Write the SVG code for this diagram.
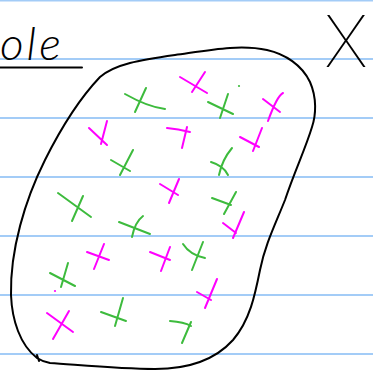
<svg xmlns="http://www.w3.org/2000/svg" width="373" height="371" viewBox="0 0 373 371">
<style>
.rule{stroke:#a3ccf7;stroke-width:2;fill:none}
.ink{stroke:#000;stroke-width:2;fill:none;stroke-linecap:round;stroke-linejoin:round}
.m{stroke:#ff00ff;stroke-width:2;fill:none;stroke-linecap:round}
.g{stroke:#3dbb3d;stroke-width:2;fill:none;stroke-linecap:round}
.hand{font-family:Lato,"Open Sans","DejaVu Sans",sans-serif;fill:#000}
.xl{font-family:Roboto,Lato,"DejaVu Sans",sans-serif;fill:#000}
</style>
<rect width="373" height="371" fill="#fff"/>
<g id="paper-lines">
<line class="rule" x1="0" y1="0.5" x2="373" y2="0.5"/>
<line class="rule" x1="0" y1="59" x2="373" y2="59"/>
<line class="rule" x1="0" y1="118" x2="373" y2="118"/>
<line class="rule" x1="0" y1="177" x2="373" y2="177"/>
<line class="rule" x1="0" y1="236" x2="373" y2="236"/>
<line class="rule" x1="0" y1="295" x2="373" y2="295"/>
<line class="rule" x1="0" y1="354" x2="373" y2="354"/>
</g>
<g id="title">
<text class="hand" x="0" y="60" font-size="46" font-style="italic" font-weight="300" letter-spacing="3">ole</text>
<line class="ink" x1="0" y1="67.5" x2="82" y2="67.5"/>
</g>
<g id="label-x">
<text class="xl" x="346" y="67" font-size="72" font-weight="100" text-anchor="middle">X</text>
</g>
<g id="set-outline">
<path class="ink" d="M37,358 C20,345 12,320 11,295 C10,250 25,200 45,160 C60,130 80,98 100,77 C115,64 140,60 175,55 C210,50 240,44 267,50 C285,54 302,65 310,82 C317,98 316,115 312,127 C305,150 295,170 285,200 C275,225 265,245 260,270 C255,295 250,320 233,340 C215,360 190,369 155,369 C120,369 80,365 50,363 C45,362 40,360 37,358 M37,355 L39,361"/>
</g>
<g id="magenta-marks">
<path class="m" d="M180,77 L207,93 M205,72 L192,92"/>
<path class="m" d="M263,99 L280,112 M283,93 Q277,96 268,121"/>
<path class="m" d="M89,128 L107,145 M107,121 L101,144"/>
<path class="m" d="M167,128 Q178,129 190,132 M187,127 L182,148"/>
<path class="m" d="M240,137 L259,147 M262,128 L253,151"/>
<path class="m" d="M160,184 L178,195 M179,179 L169,203"/>
<path class="m" d="M223,223 L236,233 M244,212 L233,238"/>
<path class="m" d="M87,252 L109,260 M104,244 L94,269"/>
<path class="m" d="M150,252 L170,260 M170,247 L161,271"/>
<path class="m" d="M47,313 L73,332 M69,311 L53,339"/>
<path class="m" d="M197,292 L211,300 M217,279 L205,308"/>
</g>
<g id="green-marks">
<path class="g" d="M125,94 Q148,107 165,109 M146,88 L135,112"/>
<path class="g" d="M208,102 L233,114 M228,94 L220,118"/>
<path class="g" d="M111,160 L130,171 M133,150 L120,175"/>
<path class="g" d="M211,162 Q224,166 228,175 M232,148 Q222,160 219,175"/>
<path class="g" d="M58,193 L91,217 M83,196 L72,221"/>
<path class="g" d="M212,198 L231,205 M236,192 L224,214"/>
<path class="g" d="M119,222 L150,234 M143,216 Q135,222 132,237"/>
<path class="g" d="M183,244 Q190,255 205,258 M203,242 L192,270"/>
<path class="g" d="M50,273 L75,286 M68,263 L61,287"/>
<path class="g" d="M101,312 L126,321 M123,298 L115,326"/>
<path class="g" d="M170,321 Q184,322 191,326 M191,322 L182,343"/>
<circle cx="239" cy="86" r="1.1" fill="#3dbb3d"/>
<circle cx="55" cy="291" r="1.1" fill="#ff00ff"/>
</g>
</svg>
